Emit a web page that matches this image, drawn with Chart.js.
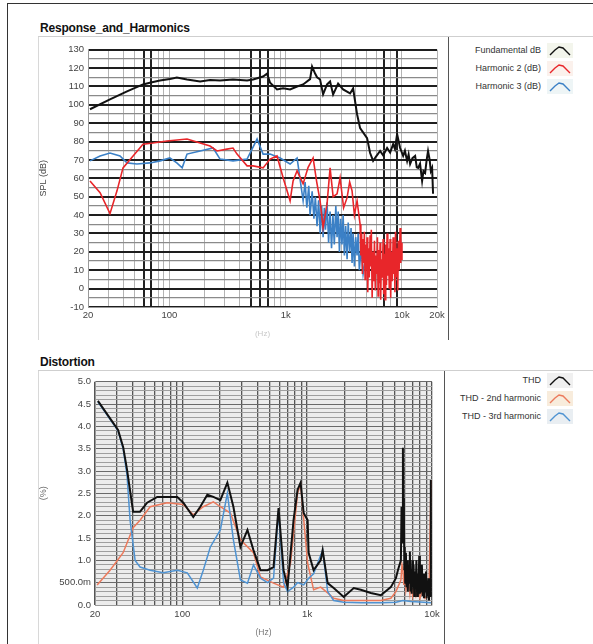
<!DOCTYPE html>
<html><head><meta charset="utf-8">
<script src="https://cdn.jsdelivr.net/npm/chart.js@4.4.0/dist/chart.umd.min.js"></script>
<style>
body{margin:0;width:593px;height:644px;background:#fff;position:relative;overflow:hidden;font-family:"Liberation Sans",Arial,sans-serif;}
.frame{position:absolute;left:7px;top:3px;width:620px;height:700px;border-left:1px solid #333;border-top:1px solid #333;}
.title{position:absolute;font-weight:bold;font-size:12px;color:#111;letter-spacing:-0.2px;}
.bar{position:absolute;height:1px;background:#cfcfcf;}
.panel{position:absolute;border-left:1px solid #d8d8d8;}
.sep{position:absolute;width:1px;background:#555;}
canvas.c{position:absolute;}
.legend{position:absolute;font-size:9px;color:#333;width:125px;}
.legend .row{display:flex;justify-content:flex-end;align-items:center;height:18px;white-space:nowrap;}
.legend canvas{margin-left:6px;}
</style>
</head><body>
<div class="frame"></div>
<div class="title" style="left:40px;top:21px;">Response_and_Harmonics</div>
<div class="bar" style="left:38px;top:36px;width:555px;"></div>
<div class="panel" style="left:38px;top:37px;height:303px;"></div>
<div class="sep" style="left:448px;top:37px;height:303px;"></div>
<canvas id="top" class="c" width="410" height="300" style="left:38px;top:40px;"></canvas>
<div id="legTop" class="legend" style="left:448px;top:41px;"></div>

<div class="title" style="left:40px;top:355px;">Distortion</div>
<div class="bar" style="left:38px;top:370px;width:555px;"></div>
<div class="panel" style="left:38px;top:371px;height:273px;"></div>
<div class="sep" style="left:444px;top:371px;height:273px;"></div>
<canvas id="bot" class="c" width="406" height="268" style="left:38px;top:372px;"></canvas>
<div id="legBot" class="legend" style="left:448px;top:371px;"></div>

<script>
// ---------- Data: top chart (frequency Hz, level dB) ----------
const fundamental = [[20.8,97.6],[30.9,103],[43.3,107.3],[59.4,111.1],[68,112],[83,113.2],[101,114],[116,114.9],[142,113.8],[184,112.7],[224,113.5],[273,113.2],[353,113.8],[466,113.2],[525,113.8],[640,115.4],[692,117],[735,112],[843,108.4],[951,109],[1092,108.4],[1254,110],[1413,111.1],[1622,114],[1687,120.8],[1791,117],[1862,115],[1977,113.8],[2099,105.7],[2270,111.1],[2410,112.7],[2559,105.7],[2825,111.6],[3120,108.4],[3582,106.2],[3802,108.9],[4111,94.9],[4366,87.3],[5012,81.9],[5321,73.8],[5649,69.5],[6000,72],[6486,74.9],[6887,72.5],[7448,76.5],[7907,74],[8395,78.6],[8700,76],[9080,84.1],[9638,76.5],[10232,72.2],[10600,75],[11067,69.5],[11400,73],[11750,67.8],[12300,71],[12972,72.2],[13400,66],[13774,65.7],[14300,68],[14894,58.6],[15300,64],[15813,63],[16300,70],[16750,74.9],[17300,70],[17700,64],[18156,65.7],[18498,51.6]];
const harmonic2 = [[20.8,58.6],[25.4,52.2],[30.9,40.8],[35.5,53.2],[40,65.7],[48.8,72.2],[59.4,78.6],[72.4,79.2],[95.5,80.3],[142,81.4],[184,79.2],[224,77.6],[257,74.9],[313,75.9],[353,76.5],[382,73.2],[466,66.8],[525,66.8],[640,65.7],[735,70.5],[843,72.2],[951,60.3],[1092,47.8],[1159,58.6],[1254,64.1],[1413,57],[1560,66],[1722,71.1],[1850,58],[1977,47.8],[2099,33.2],[2270,46.2],[2410,65.7],[2560,50],[2767,51.6],[2938,60.3],[3150,44],[3374,49.5],[3550,58],[3724,53.2],[3900,40],[4111,47.8],[4366,35],[4430,18],[4500,30],[4570,8],[4634,27],[4700,14],[4750,31],[4819,5],[4880,24],[4950,10],[5012,28],[5080,-2],[5150,22],[5230,6],[5321,29],[5380,12],[5450,32],[5540,-5],[5649,20],[5720,4],[5800,26],[5900,-1],[5990,18],[6070,8],[6150,28],[6230,-4],[6300,21],[6400,3],[6486,25],[6560,-6],[6650,16],[6760,6],[6887,27],[6960,-3],[7050,19],[7150,-6],[7250,24],[7350,2],[7448,30],[7550,7],[7650,22],[7780,0],[7907,27],[8000,-5],[8100,20],[8250,4],[8395,28],[8500,8],[8600,25],[8700,-2],[8800,31],[8950,6],[9080,22],[9200,-1],[9300,26],[9450,10],[9638,33],[9720,14],[9800,28],[9900,16],[10000,25]];
const harmonic3 = [[20.8,69.5],[25.4,72.2],[30.9,73.8],[37.7,72.2],[43.3,68.4],[52.7,67.8],[68.2,68.4],[83.2,69.5],[101,71.1],[116,68.4],[129,65.7],[142,73.2],[184,74.9],[238,76.5],[273,70.5],[353,69.5],[466,70.5],[568,81.4],[640,73.2],[735,73.2],[896,71.1],[1092,67.8],[1254,71.1],[1413,47.8],[1470,58],[1520,44],[1580,56],[1622,40],[1690,53],[1750,38],[1800,50],[1862,34],[1920,48],[1980,30],[2040,45],[2099,28],[2150,44],[2200,32],[2270,47],[2340,25],[2410,42],[2480,22],[2550,40],[2620,24],[2700,45],[2767,28],[2830,42],[2900,20],[2970,38],[3050,24],[3120,40],[3200,18],[3280,34],[3374,16],[3450,36],[3550,20],[3650,33],[3724,14],[3800,30],[3900,12],[4000,28],[4111,18],[4200,30],[4300,10],[4450,22],[4634,8],[4819,15]];

// ---------- Data: bottom chart (frequency Hz, distortion %) ----------
const thd = [[21.1,4.57],[30.6,3.92],[33.6,3.54],[36.1,3.03],[40.4,2.09],[45.9,2.09],[52.3,2.29],[63,2.42],[91.2,2.42],[101.9,2.29],[122.5,1.97],[139.4,2.2],[158.7,2.47],[177.4,2.42],[201.8,2.35],[229.7,2.74],[256.7,2.2],[292.3,1.3],[332.7,1.68],[371.6,1.23],[422.9,0.78],[481.5,0.78],[538.2,0.85],[590.2,2.17],[647.6,0.78],[697,0.4],[778.3,1.9],[838,2.58],[886.4,2.74],[937.8,2.06],[1009,1.9],[1028,1.17],[1127,0.78],[1283,1.0],[1331,1.23],[1460,0.49],[1632,0.38],[1963,0.18],[2362,0.38],[2692,0.34],[3237,0.27],[3892,0.22],[4680,0.4],[5140,0.6],[5333,0.78],[5636,1.0],[5700,2.2],[5780,1.4],[5849,3.52],[5900,1.8],[5950,2.4],[6000,0.8],[6050,1.3],[6100,0.5],[6181,1.17],[6250,0.4],[6320,1.0],[6400,0.3],[6480,0.9],[6560,0.5],[6650,1.2],[6720,0.3],[6800,0.8],[6880,0.25],[6960,1.0],[7040,0.4],[7120,0.9],[7200,0.2],[7300,0.75],[7400,0.35],[7500,1.0],[7600,0.2],[7712,0.7],[7800,0.3],[7900,1.1],[8000,0.25],[8100,0.8],[8200,0.3],[8300,0.9],[8420,0.2],[8526,0.7],[8626,0.15],[8750,0.6],[8850,0.3],[8950,0.75],[9050,0.15],[9150,0.55],[9250,0.2],[9350,0.6],[9460,0.1],[9560,0.5],[9650,0.2],[9750,0.6],[9817,2.8]];
const thd2nd = [[20.8,0.45],[26.4,0.78],[33.6,1.17],[40.4,1.73],[45.9,1.9],[55.3,2.2],[75.7,2.29],[101.9,2.25],[122.5,2.02],[147.3,2.2],[177.4,2.31],[201.8,2.2],[242.9,2.06],[292.3,1.46],[371.6,1.17],[422.9,0.63],[538.2,0.49],[647.6,0.4],[736.6,0.94],[838,2.5],[886.4,2.7],[1009,0.94],[1127,0.34],[1283,0.4],[1460,0.27],[1632,0.15],[1963,0.1],[2692,0.1],[3892,0.1],[4680,0.15],[5140,0.3],[5636,0.56],[5750,0.9],[5849,0.8],[5950,0.45],[6050,0.7],[6181,0.35],[6350,0.6],[6500,0.5],[6650,0.25],[6777,0.45],[7000,0.2],[7200,0.45],[7450,0.2],[7712,0.3],[8000,0.15],[8300,0.3],[8800,0.15],[9460,0.3],[9817,2.8]];
const thd3rd = [[21.1,4.55],[30.6,3.9],[33.6,3.5],[36.1,2.9],[38.2,1.9],[41.9,1.0],[45.9,0.85],[55.3,0.78],[70.3,0.72],[91.2,0.78],[109.7,0.72],[131.9,0.38],[147.3,0.78],[167.8,1.3],[201.8,1.68],[229.7,2.5],[256.7,1.46],[292.3,0.56],[332.7,0.49],[371.6,0.9],[422.9,0.6],[481.5,0.5],[538.2,0.6],[590.2,2.1],[647.6,0.5],[697,0.3],[778.3,0.4],[838,0.5],[937.8,0.45],[1028,0.6],[1127,0.7],[1331,1.23],[1460,0.3],[1632,0.1],[1963,0.06],[2692,0.05],[3892,0.05],[5140,0.06],[5849,0.1],[6777,0.08],[8626,0.06],[9817,0.05]];

// ---------- Tick labels ----------
const xTickValuesTop = [20,100,1000,10000,20000];
const xTickTextTop = ['20','100','1k','10k','20k'];
const xTickValuesBot = [20,100,1000,10000];
const xTickTextBot = ['20','100','1k','10k'];
const yTickValuesTop = [130,120,110,100,90,80,70,60,50,40,30,20,10,0,-10];
const yTickTextTop = ['130','120','110','100','90','80','70','60','50','40','30','20','10','0','-10'];
const yTickValuesBot = [0,0.5,1,1.5,2,2.5,3,3.5,4,4.5,5];
const yTickTextBot = ['0.0','500.0m','1.0','1.5','2.0','2.5','3.0','3.5','4.0','4.5','5.0'];

const seriesTop = ['Fundamental dB','Harmonic 2 (dB)','Harmonic 3 (dB)'];
const seriesBot = ['THD','THD - 2nd harmonic','THD - 3rd harmonic'];

function pts(a){return a.map(p=>({x:p[0],y:p[1]}));}
function logGrid(min,max){const r=[];for(const d of [10,100,1000,10000]){for(let m=1;m<10;m++){const v=d*m;if(v>=min&&v<=max)r.push(v);}}if(!r.includes(max))r.push(max);return r;}
function lookup(vals,texts,v){for(let i=0;i<vals.length;i++){if(Math.abs(vals[i]-v)<1e-6)return texts[i];}return '';}

const bgPlugin={id:'bg',beforeDraw(chart,args,opts){const a=chart.chartArea,ctx=chart.ctx;ctx.save();ctx.fillStyle=opts.color;ctx.fillRect(a.left,a.top,a.width,a.height);ctx.restore();}};
Chart.register(bgPlugin);

const tickFont={family:'"Liberation Sans", Arial, sans-serif',size:9.5};
const darkTop=[60,70,500,600,700,7000,9000];

new Chart(document.getElementById('top'),{
  type:'line',
  data:{datasets:[
    {label:seriesTop[0],data:pts(fundamental),borderColor:'#111',borderWidth:2,order:0},
    {label:seriesTop[1],data:pts(harmonic2),borderColor:'#e8262a',borderWidth:1.6,order:1},
    {label:seriesTop[2],data:pts(harmonic3),borderColor:'#3b80c6',borderWidth:1.6,order:2}
  ]},
  options:{
    responsive:false,animation:false,
    layout:{padding:{top:8,right:11,left:0,bottom:0}},
    elements:{point:{radius:0},line:{tension:0}},
    plugins:{legend:{display:false},tooltip:{enabled:false},bg:{color:'#ffffff'}},
    scales:{
      x:{type:'logarithmic',min:20,max:20000,
        afterBuildTicks:s=>{s.ticks=logGrid(20,20000).map(v=>({value:v}));},
        afterFit:s=>{s.height=33;},
        ticks:{autoSkip:false,maxRotation:0,padding:3,font:tickFont,color:'#444',callback:v=>lookup(xTickValuesTop,xTickTextTop,v)},
        grid:{drawTicks:false,color:c=>darkTop.includes(c.tick&&c.tick.value)?'#222':'#b4b4b4',lineWidth:c=>darkTop.includes(c.tick&&c.tick.value)?2:1},
        border:{color:'#999'},
        title:{display:true,text:'(Hz)',color:'#c8c8c8',font:{size:8},padding:{top:0,bottom:1}}
      },
      y:{type:'linear',min:-10,max:130,
        afterBuildTicks:s=>{const t=[];for(let v=-10;v<=130;v+=5)t.push({value:v});s.ticks=t;},
        afterFit:s=>{s.width=50;},
        ticks:{autoSkip:false,padding:4,font:tickFont,color:'#444',callback:v=>lookup(yTickValuesTop,yTickTextTop,v)},
        grid:{drawTicks:false,color:c=>(c.tick&&c.tick.value%10===0)?'#1e1e1e':'#8a8a8a',lineWidth:c=>(c.tick&&c.tick.value%10===0)?2:1.2},
        border:{color:'#999'},
        title:{display:true,text:'SPL (dB)',color:'#444',font:{size:9},padding:{top:0,bottom:2}}
      }
    }
  }
});

new Chart(document.getElementById('bot'),{
  type:'line',
  data:{datasets:[
    {label:seriesBot[0],data:pts(thd),borderColor:'#111',borderWidth:2,order:0},
    {label:seriesBot[1],data:pts(thd2nd),borderColor:'#ec7a5c',borderWidth:1.5,order:2},
    {label:seriesBot[2],data:pts(thd3rd),borderColor:'#4f93d2',borderWidth:1.5,order:1}
  ]},
  options:{
    responsive:false,animation:false,
    layout:{padding:{top:9,right:12,left:0,bottom:0}},
    elements:{point:{radius:0},line:{tension:0}},
    plugins:{legend:{display:false},tooltip:{enabled:false},bg:{color:'#ececec'}},
    scales:{
      x:{type:'logarithmic',min:20,max:10000,
        afterBuildTicks:s=>{s.ticks=logGrid(20,10000).map(v=>({value:v}));},
        afterFit:s=>{s.height=35;},
        ticks:{autoSkip:false,maxRotation:0,padding:4,font:tickFont,color:'#444',callback:v=>lookup(xTickValuesBot,xTickTextBot,v)},
        grid:{drawTicks:false,color:'#555',lineWidth:1.3},
        border:{color:'#999'},
        title:{display:true,text:'(Hz)',color:'#777',font:{size:8.5},padding:{top:2,bottom:2}}
      },
      y:{type:'linear',min:0,max:5,
        afterBuildTicks:s=>{const t=[];for(let i=0;i<=50;i++)t.push({value:i/10});s.ticks=t;},
        afterFit:s=>{s.width=57;},
        ticks:{autoSkip:false,padding:4,font:tickFont,color:'#444',callback:v=>lookup(yTickValuesBot,yTickTextBot,v)},
        grid:{drawTicks:false,color:c=>{const v=c.tick?Math.round(c.tick.value*10):1;return v%5===0?'#6a6a6a':'#9e9e9e';},lineWidth:1},
        border:{color:'#999'},
        title:{display:true,text:'(%)',color:'#666',font:{size:9},padding:{top:0,bottom:4}}
      }
    }
  }
});

function icon(color,bg){const c=document.createElement('canvas');c.width=26;c.height=15;const x=c.getContext('2d');x.fillStyle=bg;x.fillRect(0,0,26,15);x.strokeStyle=color;x.lineWidth=1.4;x.beginPath();x.moveTo(3,12);x.lineTo(8,7);x.lineTo(12,4);x.lineTo(16,5);x.lineTo(20,9);x.lineTo(23,12);x.stroke();return c;}
function legend(id,names,colors,bgs){const el=document.getElementById(id);names.forEach((n,i)=>{const r=document.createElement('div');r.className='row';const s=document.createElement('span');s.textContent=n;r.appendChild(s);r.appendChild(icon(colors[i],bgs[i]));el.appendChild(r);});}
legend('legTop',seriesTop,['#111','#e8262a','#3b80c6'],['#f3f5ec','#fbf1ec','#eef5f6']);
legend('legBot',seriesBot,['#111','#ec7a5c','#4f93d2'],['#f0f0f0','#f8ecdc','#e9eef2']);
</script>
</body></html>
